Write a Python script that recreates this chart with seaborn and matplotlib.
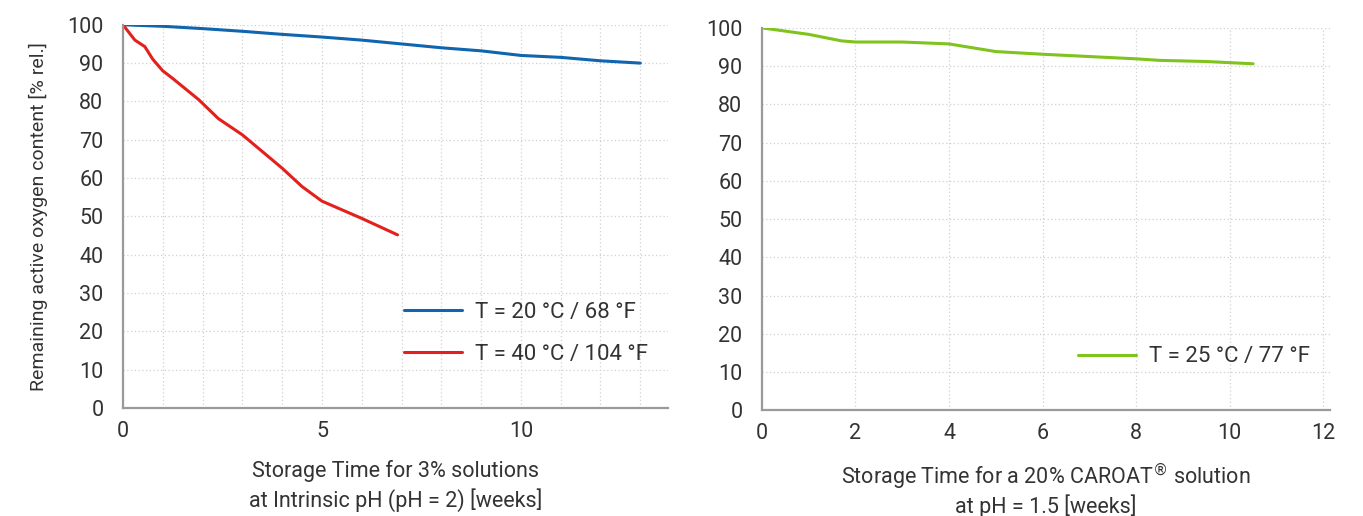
import numpy as np
import pandas as pd
import matplotlib.pyplot as plt
import seaborn as sns

# -----------------------------------------------------------------------------
# 0. SETUP
# -----------------------------------------------------------------------------
sns.set_theme(style="white")
plt.rcParams["font.family"] = ["Roboto", "DejaVu Sans"]
TXT = "#333333"

# -----------------------------------------------------------------------------
# 1. DATA
# -----------------------------------------------------------------------------
weeks_20c = [0, 1, 2, 3, 4, 5, 6, 7, 8, 9, 10, 11, 12, 13]
aox_20c = [100, 99.6, 99.0, 98.3, 97.5, 96.8, 96.0, 95.0, 94.0, 93.2, 92.0, 91.5, 90.6, 90.0]

weeks_40c = [0, 0.3, 0.55, 0.75, 1.0, 1.25, 1.9, 2.4, 3.0, 4.0, 4.5, 5.0, 6.0, 6.9]
aox_40c = [100, 96.0, 94.3, 91.0, 88.0, 86.0, 80.5, 75.5, 71.3, 62.6, 57.8, 54.0, 49.5, 45.2]

weeks_25c = [0, 1, 1.7, 2, 3, 4, 5, 6, 7, 8, 8.5, 9.5, 10.5]
aox_25c = [100, 98.3, 96.6, 96.3, 96.3, 95.8, 93.8, 93.1, 92.5, 91.9, 91.5, 91.2, 90.6]

left_labels = ["T = 20 °C / 68 °F", "T = 40 °C / 104 °F"]
right_label = "T = 25 °C / 77 °F"

df_left = pd.concat([
    pd.DataFrame({"week": weeks_20c, "aox": aox_20c, "series": left_labels[0]}),
    pd.DataFrame({"week": weeks_40c, "aox": aox_40c, "series": left_labels[1]}),
])
df_right = pd.DataFrame({"week": weeks_25c, "aox": aox_25c, "series": right_label})

# -----------------------------------------------------------------------------
# 2. FIGURE
# -----------------------------------------------------------------------------
fig = plt.figure(figsize=(13.63, 5.16), dpi=100)
ax1 = fig.add_axes([0.0902, 0.209, 0.400, 0.743])
ax2 = fig.add_axes([0.559, 0.205, 0.417, 0.741])


def style_axis(ax, xmax, major, minor):
    ax.set_xlim(0, xmax)
    ax.set_ylim(0, 100)
    ax.set_xticks(np.arange(0, xmax + 0.01, major))
    ax.set_xticks(np.arange(0, xmax + 0.01, minor), minor=True)
    ax.set_yticks(np.arange(0, 101, 10))
    ax.grid(True, which="both", axis="x", color="#d0d0d0", linestyle=(0, (1, 2)), linewidth=0.9)
    ax.grid(True, which="major", axis="y", color="#d0d0d0", linestyle=(0, (1, 2)), linewidth=0.9)
    for s in ["top", "right"]:
        ax.spines[s].set_visible(False)
    for s in ["left", "bottom"]:
        ax.spines[s].set_color("#9a9a9a")
        ax.spines[s].set_linewidth(1.6)
    ax.tick_params(axis="both", which="both", length=0, labelsize=15.5, colors=TXT, pad=9)
    ax.tick_params(axis="y", pad=14)
    ax.set_axisbelow(True)


sns.lineplot(data=df_left, x="week", y="aox", hue="series", ax=ax1,
             palette=["#0f65ae", "#e3201b"], linewidth=2.2, sort=False)
style_axis(ax1, 13.7, 5, 1)
ax1.set_xlabel("Storage Time for 3% solutions\nat Intrinsic pH (pH = 2) [weeks]",
               fontsize=15.5, color=TXT, linespacing=1.35)
ax1.xaxis.set_label_coords(0.5, -0.135)
ax1.set_ylabel("Remaining active oxygen content [% rel.]", fontsize=14, color=TXT, labelpad=14)
ax1.legend(frameon=False, loc="lower right", bbox_to_anchor=(1.0, 0.06), fontsize=16,
           handlelength=2.6, labelspacing=0.95, handletextpad=0.6, labelcolor=TXT)

sns.lineplot(data=df_right, x="week", y="aox", hue="series", ax=ax2,
             palette=["#7fc31c"], linewidth=2.2, sort=False)
style_axis(ax2, 12.15, 2, 2)
ax2.set_xlabel("Storage Time for a 20% CAROAT$^{®}$ solution\nat pH = 1.5 [weeks]",
               fontsize=15.5, color=TXT, linespacing=1.1)
ax2.xaxis.set_label_coords(0.5, -0.133)
ax2.set_ylabel("")
ax2.legend(frameon=False, loc="lower right", bbox_to_anchor=(1.0, 0.06), fontsize=16,
           handlelength=2.6, handletextpad=0.6, labelcolor=TXT)

plt.savefig("out.png", dpi=100)
